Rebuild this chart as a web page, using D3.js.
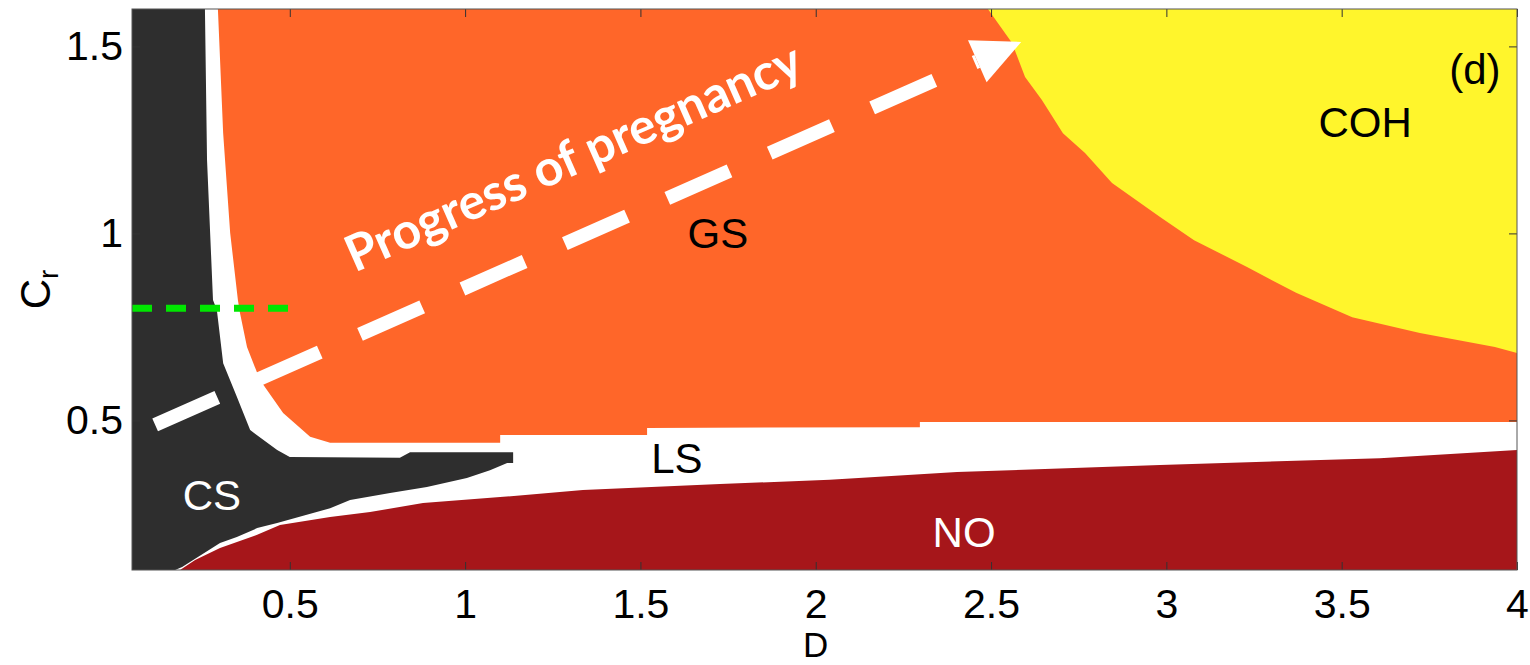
<!DOCTYPE html>
<html>
<head>
<meta charset="utf-8">
<script src="https://cdn.jsdelivr.net/npm/d3@7"></script>
<style>
  body { margin: 0; background: #fff; }
  text { font-family: "Liberation Sans", Arial, sans-serif; }
</style>
</head>
<body>
<svg id="chart" width="1530" height="665"></svg>
<script>
// axis ticks
const xTicks = [0.5, 1, 1.5, 2, 2.5, 3, 3.5, 4];
const yTicks = [0.5, 1, 1.5];

// region boundaries, [D, Cr]
// CS: right edge from the top, round the wedge tip, back along its lower edge
const csEdge = [
  [0.258, 1.6], [0.264, 1.196], [0.281, 0.822], [0.292, 0.795], [0.310, 0.653],
  [0.349, 0.563], [0.387, 0.474], [0.464, 0.421], [0.5, 0.402], [0.814, 0.40],
  [0.843, 0.415], [1.137, 0.415], [1.137, 0.386], [1.12, 0.386], [1.071, 0.367],
  [1.005, 0.346], [0.891, 0.322], [0.786, 0.306], [0.672, 0.287], [0.615, 0.265],
  [0.464, 0.226], [0.407, 0.212], [0.349, 0.188], [0.301, 0.172], [0.193, 0.108],
  [0.173, 0.1]
];
// GS: left edge from the top, then lower edge (top of LS band)
const gsLeft = [
  [0.295, 1.6], [0.310, 1.268], [0.330, 1.001], [0.352, 0.822], [0.358, 0.787],
  [0.378, 0.696], [0.415, 0.608], [0.481, 0.520], [0.558, 0.456], [0.615, 0.440]
];
const gsBottom = [
  [1.100, 0.440], [1.100, 0.461], [1.519, 0.461], [1.519, 0.480],
  [2.297, 0.482], [2.297, 0.496], [4.0, 0.496]
];
// COH: lower-left edge from the top
const cohEdge = [
  [2.491, 1.6], [2.560, 1.509], [2.597, 1.418], [2.645, 1.357], [2.705, 1.268],
  [2.768, 1.215], [2.845, 1.135], [2.982, 1.044], [3.079, 0.982], [3.230, 0.910],
  [3.370, 0.841], [3.530, 0.776], [3.723, 0.734], [3.937, 0.696], [4.0, 0.680]
];
// NO: upper edge (bottom of LS band)
const noTop = [
  [0.187, 0.1], [0.230, 0.127], [0.301, 0.159], [0.407, 0.194], [0.472, 0.220],
  [0.615, 0.242], [0.729, 0.255], [0.880, 0.279], [1.100, 0.295], [1.336, 0.314],
  [1.727, 0.330], [2.04, 0.341], [2.403, 0.362], [2.982, 0.381], [3.609, 0.399],
  [4.0, 0.421]
];

// green dashed marker line
const greenLine = [[0.05, 0.80], [0.5, 0.80]];
// arrow of pregnancy progress
const arrowStart = [0.116, 0.488];
const arrowTip = [2.586, 1.512];
const arrowText = "Progress of pregnancy";
const arrowTextAt = [0.685, 0.895];

// region names, anchored at their baseline centre
const regionLabels = [
  { name: "GS", at: [1.721, 0.961] },
  { name: "COH", at: [3.567, 1.258] },
  { name: "(d)", at: [3.88, 1.40] },
  { name: "LS", at: [1.604, 0.359] },
  { name: "CS", at: [0.278, 0.260] },
  { name: "NO", at: [2.423, 0.1615] }
];

const labelColor = { GS: "#000", COH: "#000", "(d)": "#000", LS: "#000", CS: "#fff", NO: "#fff" };
const fill = { cs: "#2e2e2e", gs: "#ff6629", coh: "#fff52c", no: "#a6161a" };

const margin = { top: 9, right: 13, bottom: 95, left: 132 };
const width = 1530, height = 665;

const svg = d3.select("#chart");

const x = d3.scaleLinear().domain([0.05, 4]).range([margin.left, width - margin.right]);
const y = d3.scaleLinear().domain([0.1, 1.6]).range([height - margin.bottom, margin.top]);

const line = d3.line().x(d => x(d[0])).y(d => y(d[1]));

svg.append("clipPath").attr("id", "plotClip")
  .append("rect")
  .attr("x", x(0.05)).attr("y", y(1.6))
  .attr("width", x(4) - x(0.05)).attr("height", y(0.1) - y(1.6));

let plot = svg.append("g").attr("clip-path", "url(#plotClip)");

// GS region (orange)
plot.append("path")
  .attr("d", line([...gsLeft, ...gsBottom, [4.0, 1.6]]) + "Z")
  .attr("fill", fill.gs);

// COH region (yellow)
plot.append("path")
  .attr("d", line([...cohEdge, [4.0, 1.6]]) + "Z")
  .attr("fill", fill.coh);

// CS region (black)
plot.append("path")
  .attr("d", line([[0.05, 1.6], ...csEdge, [0.05, 0.1]]) + "Z")
  .attr("fill", fill.cs);

// NO region (dark red)
plot.append("path")
  .attr("d", line([...noTop, [4.0, 0.1]]) + "Z")
  .attr("fill", fill.no);

// green dashed line
plot.append("path")
  .attr("d", line(greenLine))
  .attr("stroke", "#00e600")
  .attr("stroke-width", 7)
  .attr("stroke-dasharray", "20 14")
  .attr("fill", "none");

// axes, MATLAB style with inward ticks
let xAxis = svg.append("g")
  .attr("transform", "translate(0," + y(0.1) + ")")
  .call(d3.axisBottom(x).tickValues(xTicks).tickSizeInner(-8).tickSizeOuter(0).tickPadding(19)
    .tickFormat(d3.format("")));
let yAxis = svg.append("g")
  .attr("transform", "translate(" + x(0.05) + ",0)")
  .call(d3.axisLeft(y).tickValues(yTicks).tickSizeInner(-8).tickSizeOuter(0).tickPadding(9)
    .tickFormat(d3.format("")));
svg.append("g")
  .attr("transform", "translate(0," + y(1.6) + ")")
  .call(d3.axisTop(x).tickValues(xTicks).tickSizeInner(-8).tickSizeOuter(0).tickFormat(""));
svg.append("g")
  .attr("transform", "translate(" + x(4) + ",0)")
  .call(d3.axisRight(y).tickValues(yTicks).tickSizeInner(-8).tickSizeOuter(0).tickFormat(""));

svg.selectAll(".domain").remove();
svg.selectAll(".tick line").attr("stroke", "#333");
svg.selectAll(".tick text")
  .style("font-family", "Liberation Sans, Arial, sans-serif")
  .style("font-size", "41px")
  .attr("fill", "#000");

// box
svg.append("rect")
  .attr("x", x(0.05)).attr("y", y(1.6))
  .attr("width", x(4) - x(0.05)).attr("height", y(0.1) - y(1.6))
  .attr("fill", "none")
  .attr("stroke", "#555")
  .attr("stroke-width", 1);

// axis labels
svg.append("text")
  .attr("x", x(2))
  .attr("y", 657)
  .attr("text-anchor", "middle")
  .style("font-size", "35px")
  .text("D");

let yLabel = svg.append("text")
  .attr("transform", "translate(50," + y(0.85) + ") rotate(-90)")
  .attr("text-anchor", "middle")
  .style("font-size", "42px");
yLabel.append("tspan").text("C");
yLabel.append("tspan").attr("dy", 8).style("font-size", "28px").text("r");

// region labels
svg.selectAll(".regionLabel")
  .data(regionLabels)
  .enter()
  .append("text")
  .attr("class", "regionLabel")
  .attr("x", d => x(d.at[0]))
  .attr("y", d => y(d.at[1]))
  .attr("text-anchor", "middle")
  .attr("fill", d => labelColor[d.name])
  .style("font-size", "42px")
  .text(d => d.name);

// arrow: dashed shaft plus head
let x0 = x(arrowStart[0]), y0 = y(arrowStart[1]);
let x1 = x(arrowTip[0]), y1 = y(arrowTip[1]);
let len = Math.hypot(x1 - x0, y1 - y0);
let ux = (x1 - x0) / len, uy = (y1 - y0) / len;
let headLen = 48, headHalf = 23;
let bx = x1 - ux * headLen, by = y1 - uy * headLen;

svg.append("line")
  .attr("x1", x0).attr("y1", y0)
  .attr("x2", bx).attr("y2", by)
  .attr("stroke", "#fff")
  .attr("stroke-width", 14)
  .attr("stroke-dasharray", "68 44");

svg.append("polygon")
  .attr("points", [
    [x1, y1],
    [bx - uy * headHalf, by + ux * headHalf],
    [bx + uy * headHalf, by - ux * headHalf]
  ].map(p => p.join(",")).join(" "))
  .attr("fill", "#fff");

let angle = Math.atan2(y1 - y0, x1 - x0) * 180 / Math.PI;
svg.append("text")
  .attr("transform", "translate(" + x(arrowTextAt[0]) + "," + y(arrowTextAt[1]) + ") rotate(" + angle + ")")
  .attr("fill", "#fff")
  .style("font-family", "Lato, 'Open Sans', sans-serif")
  .style("font-weight", "bold")
  .style("font-size", "50px")
  .text(arrowText);
</script>
</body>
</html>
